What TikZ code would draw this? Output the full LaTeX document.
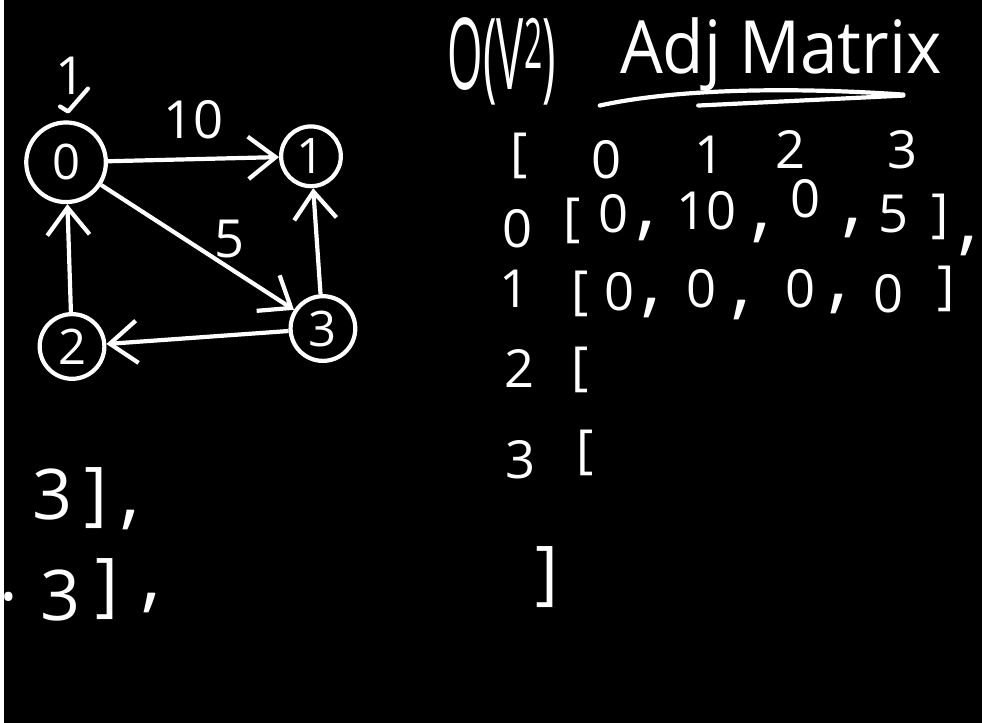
\documentclass[tikz,border=0pt]{standalone}
\usepackage{fontspec}
\setmainfont{Open Sans}
\usetikzlibrary{positioning,arrows.meta}

\begin{document}
\begin{tikzpicture}[x=0.02cm,y=-0.02cm,line width=2.4pt,white]
        %
        % `vertex' is used for the graph circles.
        % `chalk' is used for the handwritten numbers.
        % `edge' is used for the open arrow heads.
        \tikzstyle{vertex} = [draw,circle,inner sep=0pt,minimum size=1.25cm,font=\fontsize{28}{32}\selectfont]
        \tikzstyle{chalk} = [inner sep=0pt,font=\fontsize{30}{34}\selectfont]
        \tikzstyle{comma} = [inner sep=0pt,font=\fontsize{46}{50}\selectfont]
        \tikzstyle{leftover} = [inner sep=0pt,font=\fontsize{40}{46}\selectfont]
        \tikzstyle{title} = [inner sep=0pt,font=\fontsize{42}{50}\selectfont]
        \tikzstyle{edge} = [-{Straight Barb[length=5.5mm,width=8.5mm]}]
        %
        % Board
        \fill[black] (0,0) rectangle (982,726);
        %
        % Vertices
        \node[vertex,minimum size=1.6cm] (v0) at (62,163) {0};
        \node[vertex,minimum size=1.2cm] (v1) at (308,157) {1};
        \node[vertex,minimum size=1.3cm] (v2) at (68,348) {2};
        \node[vertex,minimum size=1.3cm] (v3) at (320,330) {3};
        \node[chalk] (src) at (66,76) {1};
        \draw[line cap=round,line join=round] (56,107) -- (64,112) -- (84,89);
        %
        % Edges
        \draw[edge] (v0) -- (v1);
        \draw[edge] (v0) -- (v3);
        \draw[edge] (v3) -- (v1);
        \draw[edge] (v3) -- (v2);
        \draw[edge] (v2) -- (v0);
        \node[chalk] (w10) at (190,120) {10};
        \node[chalk] (w5) at (226,240) {5};
        %
        % Heading
        \node[title] (bigo) at (500,62) {\scalebox{0.62}[1.35]{O(V\textsuperscript{2})}};
        \node[title] (adj) at (780,55) {\scalebox{0.92}[1]{Adj Matrix}};
        \draw[line cap=round] (598,106) .. controls (680,88) and (800,88) .. (903,95);
        \draw[line cap=round] (697,106) -- (903,96);
        %
        % Matrix
        \foreach \x/\y/\t [count=\i] in {517/157/[,605/160/0,708/155/1,790/150/2,902/150/3}
            \node[chalk] (h\i) at (\x,\y) {\t};
        \foreach \x/\y/\t [count=\i] in {515/230/0,570/222/[,612/215/0,705/212/10,805/200/0,893/215/5,940/218/]}
            \node[chalk] (a\i) at (\x,\y) {\t};
        \foreach \x/\y [count=\i] in {645/232,760/234,852/229,968/247}
            \node[comma] (ac\i) at (\x,\y) {,};
        \foreach \x/\y/\t [count=\i] in {512/290/1,578/295/[,618/293/0,700/290/0,800/290/0,888/295/0,946/290/]}
            \node[chalk] (b\i) at (\x,\y) {\t};
        \foreach \x/\y [count=\i] in {650/309,740/311,838/305}
            \node[comma] (bc\i) at (\x,\y) {,};
        \node[chalk] (c1) at (517,370) {2};
        \node[chalk] (c2) at (578,372) {[};
        \node[chalk] (d1) at (518,462) {3};
        \node[chalk] (d2) at (583,455) {[};
        \node[leftover] (close) at (545,580) {]};
        %
        % Left over
        \node[leftover] (l1) at (48,497) {3};
        \node[leftover] (l2) at (92,500) {]};
        \node[comma] (l3) at (127,522) {,};
        \node[leftover] (l4) at (5,600) {.};
        \node[leftover] (l5) at (56,598) {3};
        \node[leftover] (l6) at (103,592) {]};
        \node[comma] (l7) at (148,606) {,};
    \end{tikzpicture}
\end{document}
